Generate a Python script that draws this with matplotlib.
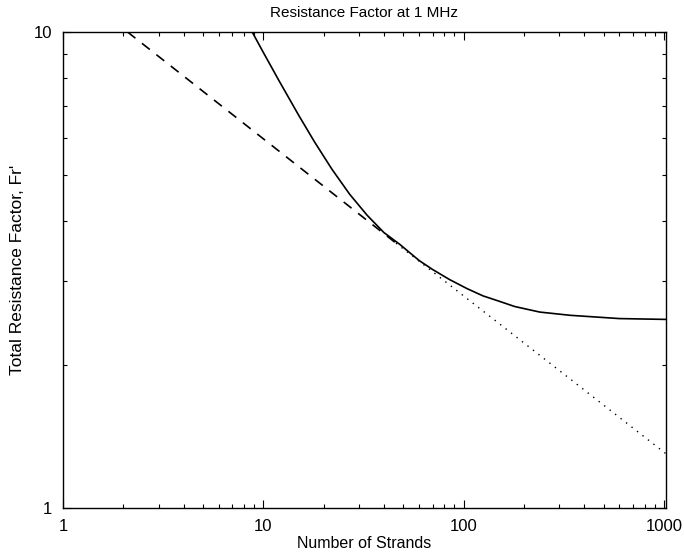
import numpy as np
import matplotlib.pyplot as plt
from matplotlib.ticker import LogLocator, FixedLocator, NullFormatter

plt.rcParams['font.family'] = ['Liberation Sans', 'DejaVu Sans']

# Total resistance factor
n_strands = [8.8, 10, 12, 15, 18, 22, 27, 33, 40, 48, 60, 70, 85, 104, 125, 150, 180, 240, 340, 600, 1024]
fr_total = [10.0, 9.06, 7.89, 6.69, 5.88, 5.15, 4.56, 4.12, 3.79, 3.58, 3.31, 3.17, 3.02, 2.89, 2.79,
            2.72, 2.65, 2.58, 2.54, 2.50, 2.49]

# Asymptote: dashed part and dotted continuation
n_dash = [2.1, 46]
fr_dash = [10.0, 3.6]
n_dot = [46, 1024]
fr_dot = [3.6, 1.30]

fig = plt.figure(figsize=(6.84, 5.57), dpi=100)
ax = fig.add_axes([63/684, 49/557, 603/684, 476/557])

ax.plot(n_strands, fr_total, color='black', linewidth=1.2)
ax.plot(n_dash, fr_dash, color='black', linewidth=1.2, linestyle=(0, (6, 5)))
ax.plot(n_dot, fr_dot, color='black', linewidth=1.0, linestyle=(0, (1, 4)))

ax.set_xscale('log')
ax.set_yscale('log')
ax.set_xlim(1, 1024)
ax.set_ylim(1, 10)

ax.xaxis.set_major_locator(FixedLocator([1, 10, 100, 1000]))
ax.set_xticklabels(['1', '10', '100', '1000'])
ax.xaxis.set_minor_locator(LogLocator(base=10, subs=np.arange(2, 10)))
ax.xaxis.set_minor_formatter(NullFormatter())
ax.yaxis.set_major_locator(FixedLocator([1, 10]))
ax.set_yticklabels(['1', '10'])
ax.yaxis.set_minor_locator(LogLocator(base=10, subs=np.arange(2, 10)))
ax.yaxis.set_minor_formatter(NullFormatter())

ax.tick_params(which='both', direction='in', top=True, right=True, labelsize=12, width=0.8)
ax.tick_params(which='major', length=6, pad=8)
ax.tick_params(which='minor', length=3)
for s in ax.spines.values():
    s.set_linewidth(1.0)

ax.set_title('Resistance Factor at 1 MHz', fontsize=11, pad=11)
ax.set_xlabel('Number of Strands', fontsize=11.5, labelpad=1)
ax.set_ylabel("Total Resistance Factor, Fr'", fontsize=12.5, labelpad=6)

plt.savefig('out.png', dpi=100)
